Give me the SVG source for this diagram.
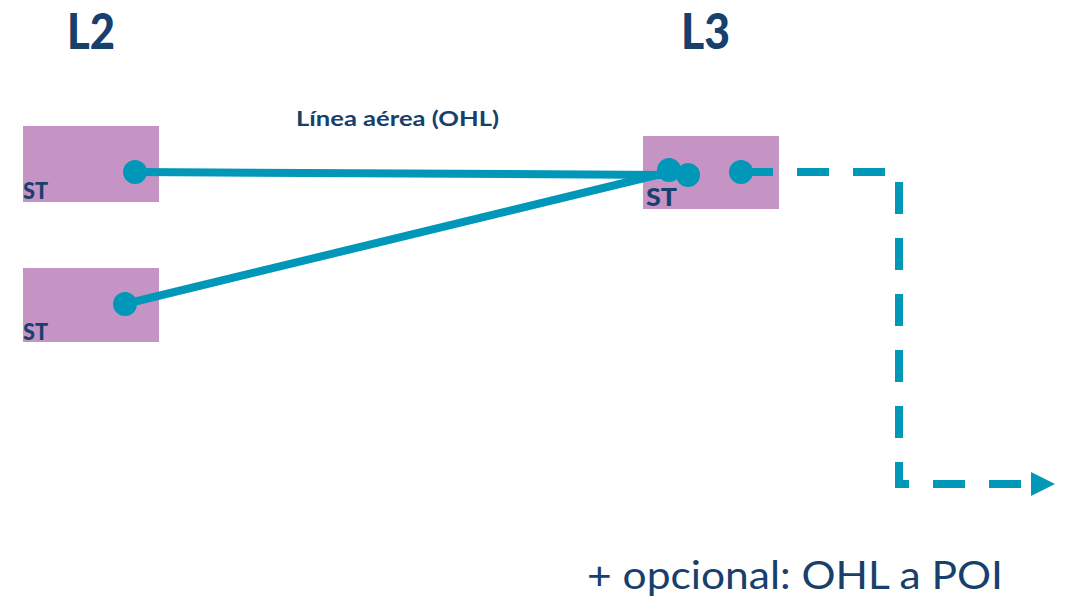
<svg xmlns="http://www.w3.org/2000/svg" width="1071" height="599" viewBox="0 0 1071 599">
  <style>
    .box { fill: #C594C5; }
    .dot { fill: #0097B9; }
    .line { stroke: #0097B9; stroke-width: 8; fill: none; }
    .dash { stroke: #0097B9; stroke-width: 8; fill: none; stroke-dasharray: 32 24; }
    .txt { fill: #17406D; font-family: Lato, "Open Sans", "Liberation Sans", sans-serif; }
    .bold { font-weight: bold; }
    .heavy { font-weight: 900; }
  </style>
  <defs>
    <marker id="arrow" markerUnits="userSpaceOnUse" markerWidth="24" markerHeight="26" refX="0" refY="12" orient="auto">
      <path d="M0,0 L24,12 L0,24 Z" fill="#0097B9"/>
    </marker>
  </defs>

  <rect width="1071" height="599" fill="#FFFFFF"/>

  <!-- column headers -->
  <text class="txt heavy" x="67" y="49" font-size="49" textLength="48" lengthAdjust="spacingAndGlyphs">L2</text>
  <text class="txt heavy" x="681" y="49" font-size="49" textLength="49" lengthAdjust="spacingAndGlyphs">L3</text>

  <!-- substations -->
  <g id="st-l2-a">
    <rect class="box" x="23" y="126" width="136" height="76"/>
    <text class="txt heavy" x="23" y="199" font-size="22" textLength="25" lengthAdjust="spacingAndGlyphs">ST</text>
  </g>
  <g id="st-l2-b">
    <rect class="box" x="23" y="268" width="136" height="74"/>
    <text class="txt heavy" x="23" y="340" font-size="22" textLength="25" lengthAdjust="spacingAndGlyphs">ST</text>
  </g>
  <g id="st-l3">
    <rect class="box" x="643" y="136" width="136" height="73"/>
    <text class="txt heavy" x="646" y="206" font-size="25" textLength="31" lengthAdjust="spacingAndGlyphs">ST</text>
  </g>

  <!-- connectors -->
  <g id="connectors">
    <line class="line" x1="135" y1="172" x2="669" y2="175"/>
    <line class="line" x1="125" y1="304" x2="669" y2="172"/>
    <path class="dash" d="M741,172 H899 V484 H1031" marker-end="url(#arrow)"/>
  </g>

  <!-- connection points -->
  <g id="terminals">
    <circle class="dot" cx="135" cy="172" r="12"/>
    <circle class="dot" cx="125" cy="304" r="12"/>
    <circle class="dot" cx="669" cy="170" r="12"/>
    <circle class="dot" cx="688" cy="175" r="12"/>
    <circle class="dot" cx="741" cy="172" r="12"/>
  </g>

  <!-- labels -->
  <text class="txt bold" x="296" y="126" font-size="21" textLength="203" lengthAdjust="spacingAndGlyphs">Línea aérea (OHL)</text>
  <text class="txt" x="587" y="589" font-size="38" textLength="416" lengthAdjust="spacingAndGlyphs">+ opcional: OHL a POI</text>
</svg>
